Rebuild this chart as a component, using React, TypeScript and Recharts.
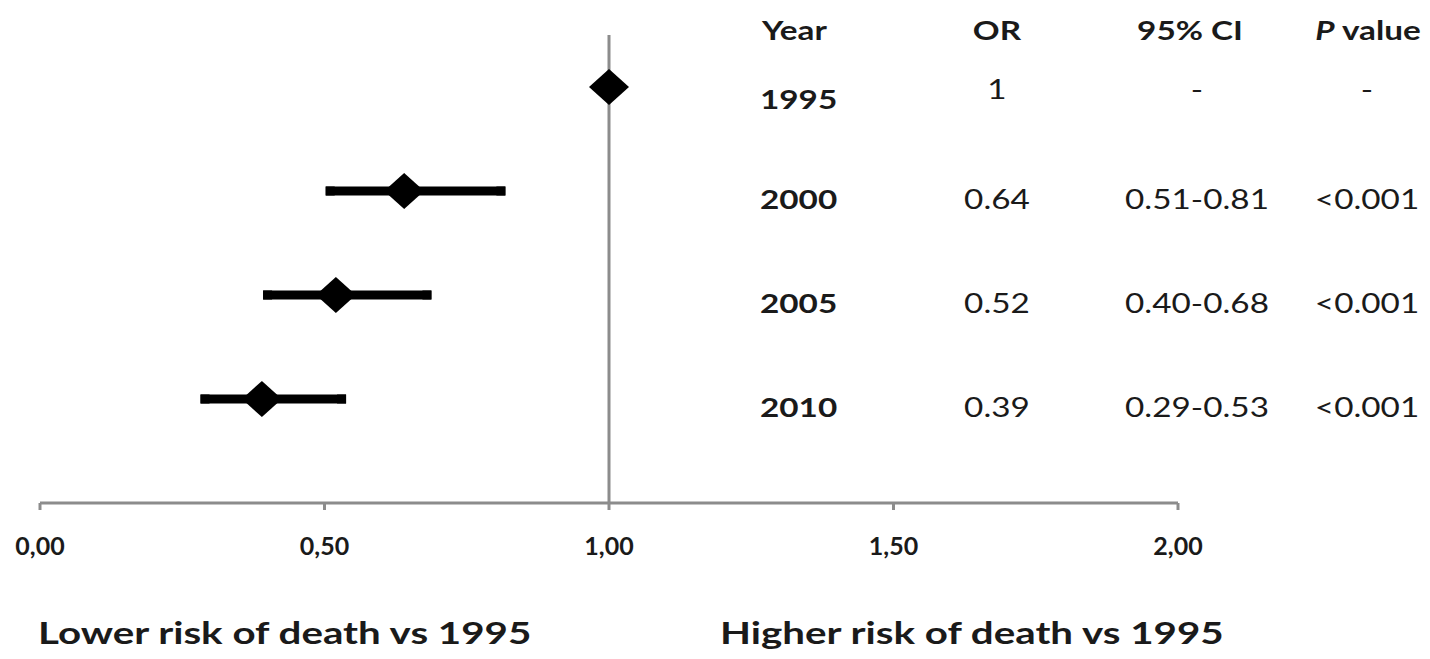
import {
  ScatterChart,
  Scatter,
  XAxis,
  YAxis,
  ErrorBar,
  ReferenceLine,
} from "recharts";

const years = ["1995", "2000", "2005", "2010"];
const oddsRatios = [1, 0.64, 0.52, 0.39];
const ciLow = [1, 0.51, 0.4, 0.29];
const ciHigh = [1, 0.81, 0.68, 0.53];
const rowLevels = [4, 3, 2, 1];
const orLabels = ["1", "0.64", "0.52", "0.39"];
const ciLabels = ["-", "0.51-0.81", "0.40-0.68", "0.29-0.53"];
const pLabels = ["-", "<0.001", "<0.001", "<0.001"];
const xTicks = [0, 0.5, 1, 1.5, 2];
const headers = ["Year", "OR", "95% CI", "value"];
const lowerLabel = "Lower risk of death vs 1995";
const higherLabel = "Higher risk of death vs 1995";

const FONT = "Lato, 'Open Sans', sans-serif";
const STRETCH = 1.28;

const points = years.map((yr, i) => ({
  year: yr,
  or: oddsRatios[i],
  row: rowLevels[i],
  err: [oddsRatios[i] - ciLow[i], ciHigh[i] - oddsRatios[i]],
}));

const rows = years.map((yr, i) => ({
  year: yr,
  or: 1.5,
  row: rowLevels[i],
  orText: orLabels[i],
  ciText: ciLabels[i],
  pText: pLabels[i],
}));

// stretched text, the original table text is wider than it is tall
const Txt = ({ x, y, anchor = "middle", size = 26, weight = 400, sx = STRETCH, children }: any) => (
  <text
    transform={`translate(${x},${y}) scale(${sx},1)`}
    textAnchor={anchor}
    fontSize={size}
    fontWeight={weight}
    fontFamily={FONT}
    fill="#1a1a1a"
  >
    {children}
  </text>
);

const Diamond = (props: any) => {
  const { cx, cy } = props;
  if (cx == null || cy == null) return null;
  return (
    <polygon
      points={`${cx - 20},${cy} ${cx},${cy - 18} ${cx + 20},${cy} ${cx},${cy + 18}`}
      fill="#000"
    />
  );
};

const TableRow = (props: any) => {
  const { cy, payload } = props;
  if (cy == null) return null;
  const first = payload.year === "1995";
  const yYear = cy + (first ? 22 : 18);
  const yVal = cy + (first ? 12 : 18);
  return (
    <g>
      <Txt x={760} y={yYear} anchor="start" weight={700}>{payload.year}</Txt>
      <Txt x={997} y={yVal}>{payload.orText}</Txt>
      <Txt x={1197} y={yVal}>{payload.ciText}</Txt>
      <Txt x={1367} y={yVal}>{payload.pText}</Txt>
    </g>
  );
};

const XTick = (props: any) => {
  const { x, y, payload } = props;
  return (
    <text
      x={x}
      y={y + 45}
      textAnchor="middle"
      fontSize={25}
      fontWeight={700}
      fontFamily={FONT}
      fill="#1a1a1a"
    >
      {payload.value.toFixed(2).replace(".", ",")}
    </text>
  );
};

const App = () => {
  return (
    <div style={{ position: "absolute", left: 0, top: 0, width: 1430, height: 659, background: "#fff" }}>
      <ScatterChart
        width={1430}
        height={659}
        margin={{ top: 35, right: 252, left: 40, bottom: 96 }}
      >
        <XAxis
          type="number"
          dataKey="or"
          domain={[0, 2]}
          ticks={xTicks}
          height={60}
          axisLine={{ stroke: "#8c8c8c", strokeWidth: 3 }}
          tickLine={{ stroke: "#8c8c8c", strokeWidth: 3 }}
          tickSize={7}
          tickMargin={0}
          tick={<XTick />}
          interval={0}
        />
        <YAxis type="number" dataKey="row" domain={[0, 4.5]} hide />
        <ReferenceLine x={1} stroke="#8c8c8c" strokeWidth={3} />
        <Scatter data={points} shape={<Diamond />} isAnimationActive={false}>
          <ErrorBar
            dataKey="err"
            direction="x"
            width={0}
            strokeWidth={9}
            stroke="#000"
            strokeLinecap="square"
          />
        </Scatter>
        <Scatter data={rows} shape={<TableRow />} isAnimationActive={false} />
      </ScatterChart>
      <svg
        width={1430}
        height={659}
        style={{ position: "absolute", left: 0, top: 0, pointerEvents: "none" }}
      >
        <Txt x={762} y={40} anchor="start" weight={700}>{headers[0]}</Txt>
        <Txt x={997} y={40} weight={700}>{headers[1]}</Txt>
        <Txt x={1190} y={40} weight={700}>{headers[2]}</Txt>
        <text
          transform={`translate(1368,40) scale(${STRETCH},1)`}
          textAnchor="middle"
          fontSize={26}
          fontWeight={700}
          fontFamily={FONT}
          fill="#1a1a1a"
        >
          <tspan fontStyle="italic">P</tspan> {headers[3]}
        </text>
        <Txt x={38} y={644} anchor="start" size={31} weight={700} sx={1.3}>{lowerLabel}</Txt>
        <Txt x={720} y={644} anchor="start" size={31} weight={700} sx={1.3}>{higherLabel}</Txt>
      </svg>
    </div>
  );
};

export default App;
